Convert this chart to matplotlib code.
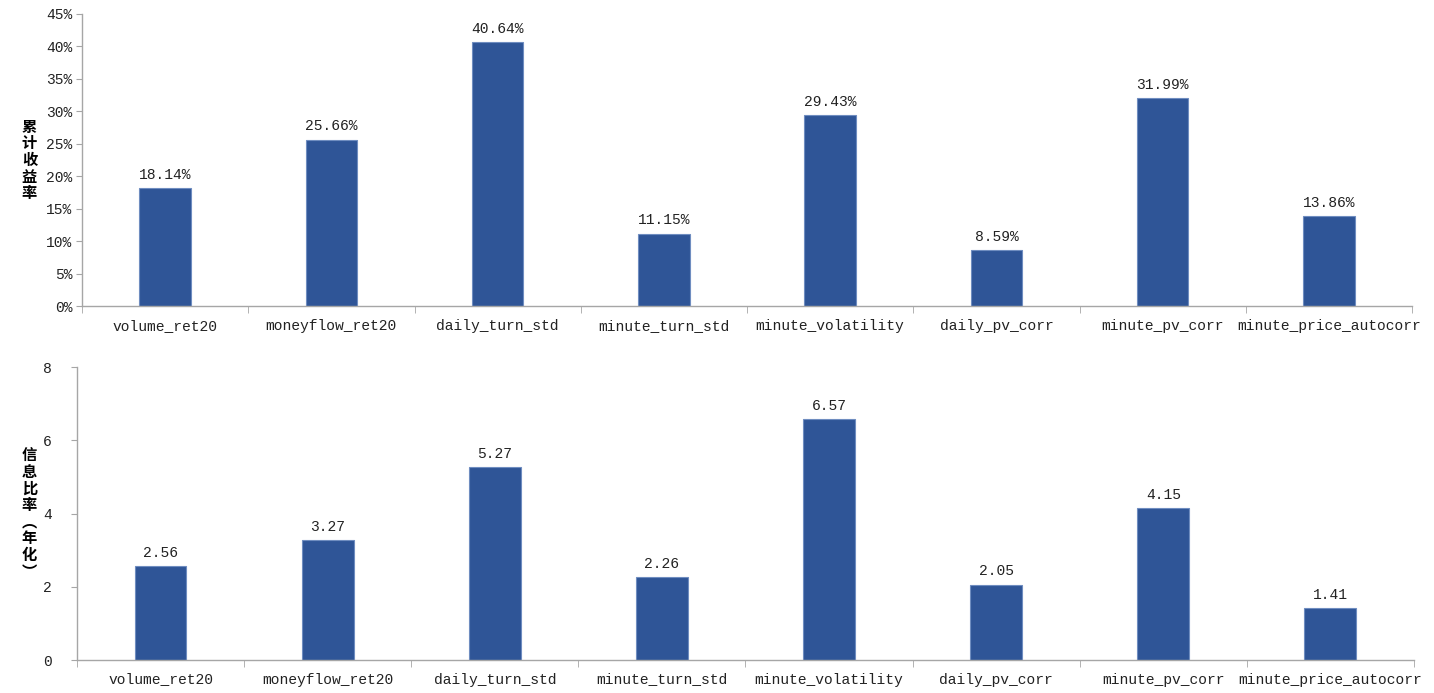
import numpy as np
import matplotlib
matplotlib.use("Agg")
import matplotlib.pyplot as plt
from matplotlib.ticker import FuncFormatter, FixedLocator

# font monospaziato per imitare il SimSun dell'originale
plt.rcParams['font.family'] = ['Liberation Mono', 'Noto Sans CJK SC', 'DejaVu Sans']

# dati
fattori = ["volume_ret20", "moneyflow_ret20", "daily_turn_std", "minute_turn_std",
           "minute_volatility", "daily_pv_corr", "minute_pv_corr", "minute_price_autocorr"]
rendimento = [18.14, 25.66, 40.64, 11.15, 29.43, 8.59, 31.99, 13.86]
info_ratio = [2.56, 3.27, 5.27, 2.26, 6.57, 2.05, 4.15, 1.41]

BLU = "#2F5597"
GRIGIO = "#A6A6A6"

fig = plt.figure(figsize=(14.34, 6.93), dpi=100)
ax1 = fig.add_axes([0.0572, 0.5584, 0.9275, 0.4214])
ax2 = fig.add_axes([0.0537, 0.0476, 0.9323, 0.4228])

def prepara_asse(ax, valori, ymax, passo, fmt_tick, fmt_lab, ylabel, pad_y, pad_lab):
    x = np.arange(len(valori))
    ax.bar(x, valori, width=0.31, color=BLU, edgecolor="#6F8DC0", linewidth=0.8)
    for xi, v in zip(x, valori):
        ax.text(xi, v + ymax * 0.022, fmt_lab(v), ha="center", va="bottom", fontsize=10.5, color="#222222")
    ax.set_xlim(-0.5, len(valori) - 0.5)
    ax.set_ylim(0, ymax)
    ax.set_yticks(np.arange(0, ymax + passo / 2, passo))
    ax.yaxis.set_major_formatter(FuncFormatter(fmt_tick))
    ax.set_xticks(x)
    ax.set_xticklabels(fattori, fontsize=10.5)
    ax.xaxis.set_minor_locator(FixedLocator(np.arange(-0.5, len(valori), 1.0)))
    ax.tick_params(axis="x", which="major", length=0, pad=9)
    ax.tick_params(axis="x", which="minor", length=5, color=GRIGIO, direction="out")
    ax.tick_params(axis="y", length=4, color=GRIGIO, direction="out", labelsize=10.5, pad=pad_y, labelcolor="#222222")
    ax.tick_params(axis="x", labelcolor="#222222")
    for s in ["top", "right"]:
        ax.spines[s].set_visible(False)
    for s in ["left", "bottom"]:
        ax.spines[s].set_color(GRIGIO)
        ax.spines[s].set_linewidth(1.0)
    ax.set_ylabel(ylabel, rotation=0, fontsize=11, fontweight="bold",
                  family=['Noto Sans CJK SC', 'DejaVu Sans'], va="center", labelpad=pad_lab,
                  linespacing=1.05)

prepara_asse(ax1, rendimento, 45, 5, lambda v, p: f"{v:.0f}%", lambda v: f"{v:.2f}%",
             "累\n计\n收\n益\n率", 3, 12)
prepara_asse(ax2, info_ratio, 8, 2, lambda v, p: f"{v:.0f}", lambda v: f"{v:.2f}",
             "信\n息\n比\n率\n︵\n年\n化\n︶", 14, 10)

fig.savefig("out.png", dpi=100)
